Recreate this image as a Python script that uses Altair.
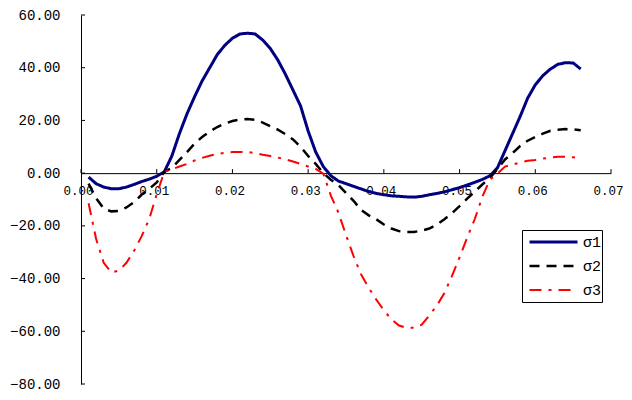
import altair as alt
import pandas as pd

x_vals = [0.001, 0.002, 0.003, 0.004, 0.005, 0.006, 0.007, 0.008, 0.009, 0.010,
          0.011, 0.012, 0.013, 0.014, 0.015, 0.016, 0.017, 0.018, 0.019, 0.020,
          0.021, 0.022, 0.023, 0.024, 0.025, 0.026, 0.027, 0.028, 0.029, 0.030,
          0.031, 0.032, 0.033, 0.034, 0.035, 0.036, 0.037, 0.038, 0.039, 0.040,
          0.041, 0.042, 0.043, 0.044, 0.045, 0.046, 0.047, 0.048, 0.049, 0.050,
          0.051, 0.052, 0.053, 0.054, 0.055, 0.056, 0.057, 0.058, 0.059, 0.060,
          0.061, 0.062, 0.063, 0.064, 0.065, 0.066]

sigma1 = [-1.5, -4.0, -5.3, -5.9, -5.9, -5.3, -4.3, -3.2, -2.3, -1.2,
          0.5, 6.5, 15.0, 22.5, 29.0, 35.0, 40.0, 45.0, 48.5, 51.2,
          52.8, 53.1, 52.8, 50.5, 47.3, 42.9, 37.5, 31.5, 25.5, 16.0,
          8.0, 2.5, -1.0, -3.0, -4.0, -5.0, -6.0, -7.0, -7.7, -8.2,
          -8.6, -8.8, -9.0, -9.1, -8.8, -8.2, -7.7, -7.1, -6.3, -5.5,
          -4.5, -3.5, -2.4, -1.0, 2.0, 8.5, 15.0, 21.5, 28.5, 33.5,
          37.0, 39.5, 41.3, 41.9, 41.8, 39.5]

sigma2 = [-4.0, -9.5, -13.5, -14.5, -14.3, -13.0, -11.0, -8.2, -6.0, -3.5,
          0.5, 2.0, 5.0, 8.0, 11.2, 13.7, 15.8, 17.5, 18.8, 19.8,
          20.3, 20.5, 20.2, 19.2, 17.8, 16.5, 14.8, 12.8, 10.0, 6.5,
          3.5, 0.0, -2.5, -4.5, -7.5, -10.5, -14.0, -16.0, -17.5, -19.5,
          -21.0, -22.0, -22.3, -22.3, -21.8, -21.0, -19.5, -17.5, -15.2, -12.5,
          -9.7, -7.0, -4.3, -1.8, 1.5, 5.2, 7.6, 10.3, 12.3, 13.7,
          15.0, 16.1, 16.5, 16.7, 16.6, 16.3]

sigma3 = [-11.4, -25.0, -34.0, -37.7, -37.0, -34.0, -29.5, -24.0, -17.5, -8.0,
          0.5, 1.5, 2.5, 3.5, 4.8, 5.8, 6.6, 7.3, 7.7, 8.0,
          8.0, 8.0, 7.6, 7.0, 6.5, 5.9, 5.2, 4.4, 3.5, 2.5,
          1.6, -0.2, -8.5, -15.0, -23.5, -31.5, -38.5, -43.5, -48.0, -52.0,
          -55.5, -57.8, -58.7, -58.7, -57.5, -54.0, -50.2, -45.5, -39.0, -32.0,
          -24.5, -17.5, -9.0, -2.5, -0.2, 2.5, 3.3, 4.0, 4.7, 5.0,
          5.5, 5.9, 6.2, 6.2, 6.0, 5.8]

series_names = ["σ1", "σ2", "σ3"]
series_colors = ["#000080", "#000000", "#FF0000"]
series_dashes = [[1, 0], [10, 7], [12, 7, 3, 7]]
series_widths = [3, 2, 2]

x_ticks = [0.0, 0.01, 0.02, 0.03, 0.04, 0.05, 0.06, 0.07]
y_ticks = [-80, -60, -40, -20, 0, 20, 40, 60]

W = 530
H = 369
X_MIN, X_MAX = 0.0, 0.07
Y_MIN, Y_MAX = -80, 60
FONT = "Liberation Mono"

rows = []
for name, vals in zip(series_names, [sigma1, sigma2, sigma3]):
    for xv, yv in zip(x_vals, vals):
        rows.append({"x": xv, "y": yv, "series": name})
df = pd.DataFrame(rows)

xscale = alt.Scale(domain=[X_MIN, X_MAX], nice=False, zero=False)
yscale = alt.Scale(domain=[Y_MIN, Y_MAX], nice=False, zero=False)

y0_from_top = (Y_MAX - 0) / (Y_MAX - Y_MIN) * H
x_axis_offset = -(H - y0_from_top)

lines = alt.Chart(df).mark_line(interpolate="linear").encode(
    x=alt.X("x:Q", scale=xscale,
            axis=alt.Axis(values=x_ticks, format=".2f", title=None, offset=x_axis_offset,
                          ticks=False, tickSize=0, grid=False, domainColor="black",
                          labelPadding=11, labelFont=FONT, labelFontSize=12.5,
                          labelOffset=-3,
                          labelColor="black", labelBaseline="top", labelFlush=False)),
    y=alt.Y("y:Q", scale=yscale,
            axis=alt.Axis(values=y_ticks, format=".2f", title=None, ticks=False, tickSize=0,
                          grid=False, domainColor="black", labelPadding=21,
                          labelFont=FONT, labelFontSize=14, labelColor="black")),
    color=alt.Color("series:N", scale=alt.Scale(domain=series_names, range=series_colors),
                    legend=alt.Legend(title=None)),
    strokeDash=alt.StrokeDash("series:N", scale=alt.Scale(domain=series_names, range=series_dashes),
                              legend=alt.Legend(title=None)),
    strokeWidth=alt.StrokeWidth("series:N", scale=alt.Scale(domain=series_names, range=series_widths),
                                legend=alt.Legend(title=None)),
)

ytick_df = pd.DataFrame({"v": y_ticks})
xtick_df = pd.DataFrame({"v": x_ticks})

ytick_rules = alt.Chart(ytick_df).mark_rule(color="black", strokeWidth=1).encode(
    y=alt.Y("v:Q", scale=yscale),
    x=alt.datum(X_MIN),
    x2=alt.datum(X_MIN + (X_MAX - X_MIN) * 4 / W),
)
xtick_rules = alt.Chart(xtick_df).mark_rule(color="black", strokeWidth=1).encode(
    x=alt.X("v:Q", scale=xscale),
    y=alt.datum(0),
    y2=alt.datum((Y_MAX - Y_MIN) * 4 / H),
)

chart = alt.layer(ytick_rules, xtick_rules, lines).properties(
    width=W, height=H,
    autosize=alt.AutoSizeParams(type="none"),
    padding={"left": 73, "top": 7, "right": 13, "bottom": 8},
).configure_view(stroke=None).configure_legend(
    orient="none", legendX=441, legendY=215,
    strokeColor="black", fillColor="white", padding=0,
    symbolType="stroke", symbolSize=2304, clipHeight=24, rowPadding=0,
    symbolOffset=6, labelOffset=4, labelFont=FONT, labelFontSize=15,
    labelColor="black", symbolStrokeColor="black",
)

chart.save("out.html", embed_options={"renderer": "svg", "actions": False})
